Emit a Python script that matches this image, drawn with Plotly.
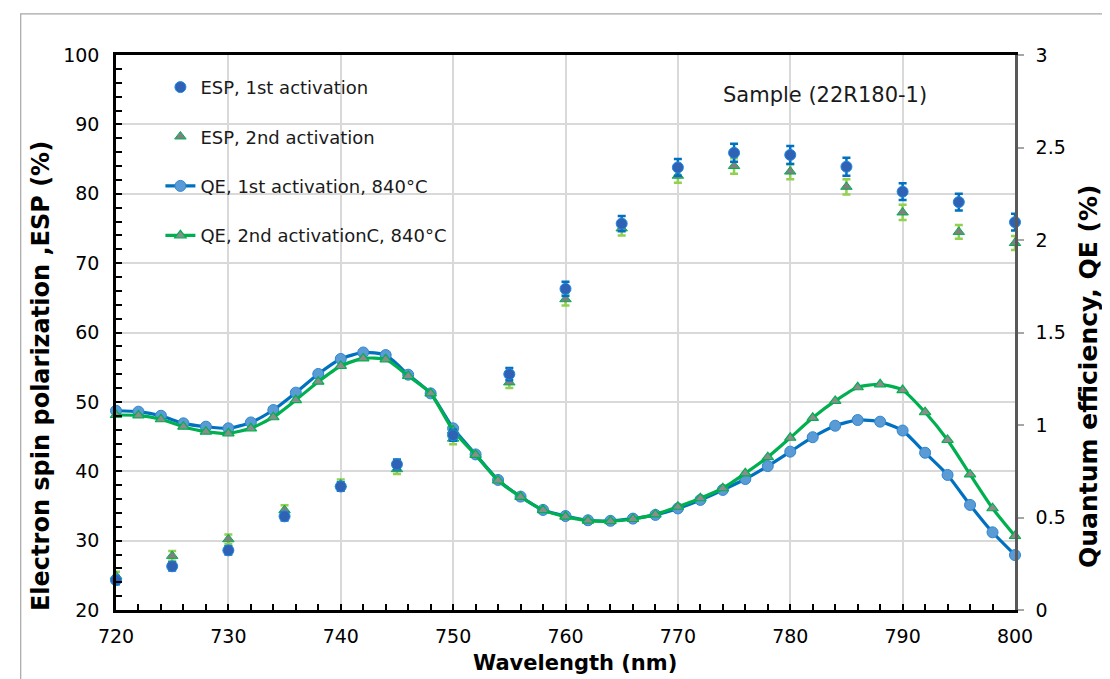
import plotly.graph_objects as go

# ---------------- data ----------------
wl_qe = [720, 722, 724, 726, 728, 730, 732, 734, 736, 738, 740, 742, 744, 746, 748,
         750, 752, 754, 756, 758, 760, 762, 764, 766, 768, 770, 772, 774, 776, 778,
         780, 782, 784, 786, 788, 790, 792, 794, 796, 798, 800]
qe_1st = [1.077, 1.072, 1.050, 1.009, 0.991, 0.982, 1.014, 1.081, 1.175, 1.276, 1.357,
          1.392, 1.378, 1.272, 1.171, 0.982, 0.841, 0.703, 0.613, 0.541, 0.508, 0.485,
          0.482, 0.494, 0.514, 0.549, 0.595, 0.649, 0.708, 0.778, 0.856, 0.934, 0.996,
          1.027, 1.018, 0.970, 0.850, 0.730, 0.568, 0.420, 0.297]
qe_2nd = [1.054, 1.052, 1.031, 0.991, 0.964, 0.955, 0.982, 1.042, 1.135, 1.234, 1.319,
          1.360, 1.355, 1.265, 1.171, 0.970, 0.838, 0.700, 0.612, 0.540, 0.505, 0.483,
          0.480, 0.492, 0.517, 0.558, 0.604, 0.658, 0.739, 0.826, 0.931, 1.039, 1.130,
          1.204, 1.220, 1.189, 1.069, 0.919, 0.733, 0.550, 0.400]

wl_esp = [720, 725, 730, 735, 740, 745, 750, 755, 760, 765, 770, 775, 780, 785, 790, 795, 800]
esp_1st = [24.3, 26.3, 28.6, 33.5, 37.8, 41.0, 45.2, 54.0, 66.3, 75.7, 83.8, 85.9, 85.6,
           83.9, 80.3, 78.8, 75.9]
esp_1st_err = [0.6, 0.6, 0.6, 0.6, 0.6, 0.7, 0.8, 0.9, 1.0, 1.1, 1.2, 1.3, 1.3, 1.3, 1.2, 1.2, 1.2]
esp_2nd = [24.9, 27.8, 30.2, 34.4, 38.1, 40.3, 44.7, 52.8, 64.8, 75.0, 82.6, 84.0, 83.2,
           81.0, 77.3, 74.5, 72.9]
esp_2nd_err = [0.6, 0.7, 0.7, 0.7, 0.7, 0.7, 0.8, 0.8, 0.9, 1.0, 1.0, 1.1, 1.1, 1.1, 1.1, 1.0, 1.0]

left_ticks = [20, 30, 40, 50, 60, 70, 80, 90, 100]
right_ticks = [0, 0.5, 1, 1.5, 2, 2.5, 3]
right_labels = ["0", "0.5", "1", "1.5", "2", "2.5", "3"]
x_ticks = [720, 730, 740, 750, 760, 770, 780, 790, 800]

x_title = "Wavelength (nm)"
y_left_title = "Electron spin polarization ,ESP (%)"
y_right_title = "Quantum efficiency, QE (%)"
sample_label = "Sample (22R180-1)"

FONT = "DejaVu Sans, Liberation Sans, Arial, sans-serif"

fig = go.Figure()

# QE curves (primary y axis, right side)
fig.add_trace(go.Scatter(
    x=wl_qe, y=qe_1st, mode="lines+markers", name="QE, 1st activation, 840°C",
    line=dict(color="#0070C0", width=3.2, shape="spline", smoothing=0.6),
    marker=dict(symbol="circle", size=11, color="#5B9BD5", line=dict(color="#2E86D0", width=1)),
    yaxis="y", legendgroup="c", legendrank=3, cliponaxis=False,
))
fig.add_trace(go.Scatter(
    x=wl_qe, y=qe_2nd, mode="lines+markers", name="QE, 2nd activationC, 840°C",
    line=dict(color="#00B050", width=3.2, shape="spline", smoothing=0.6),
    marker=dict(symbol="triangle-up", size=10, color="#8C8C8C", line=dict(color="#00B050", width=1.2)),
    yaxis="y", legendgroup="d", legendrank=4, cliponaxis=False,
))

# ESP points (left axis, drawn on overlay)
fig.add_trace(go.Scatter(
    x=wl_esp, y=esp_2nd, mode="markers", name="ESP, 2nd activation",
    marker=dict(symbol="triangle-up", size=10, color="#808080", line=dict(color="#00B050", width=1)),
    error_y=dict(type="data", array=esp_2nd_err, color="#92D050", thickness=2.5, width=4),
    yaxis="y2", legendgroup="b", legendrank=2, cliponaxis=False,
))
fig.add_trace(go.Scatter(
    x=wl_esp, y=esp_1st, mode="markers", name="ESP, 1st activation",
    marker=dict(symbol="circle", size=11, color="#2F62B4", line=dict(color="#1E88E0", width=1)),
    error_y=dict(type="data", array=esp_1st_err, color="#0070C0", thickness=2.5, width=4),
    yaxis="y2", legendgroup="a", legendrank=1, cliponaxis=False,
))

fig.update_layout(
    width=1110, height=679,
    margin=dict(l=108, r=103, t=47, b=77),
    paper_bgcolor="white", plot_bgcolor="white",
    font=dict(family=FONT, size=19, color="#000000"),
    showlegend=True,
    legend=dict(
        x=0.0494, y=0.975, xanchor="left", yanchor="top",
        bgcolor="rgba(0,0,0,0)", font=dict(size=18, color="#1a1a1a"),
        tracegroupgap=23, traceorder="grouped", itemwidth=30,
    ),
    xaxis=dict(
        range=[720, 800], tickvals=x_ticks, ticktext=[str(v) for v in x_ticks],
        showgrid=True, gridcolor="#D9D9D9", gridwidth=1.5,
        showline=True, linecolor="black", linewidth=2.5, mirror=True,
        ticks="inside", ticklen=6, tickcolor="black", tickwidth=1.5,
        minor=dict(dtick=2, ticks="inside", ticklen=6, tickcolor="black", tickwidth=1.5, showgrid=False),
        zeroline=False, tickfont=dict(size=19), automargin=False, ticklabelstandoff=7,
    ),
    yaxis=dict(
        range=[0, 3], side="right", tickvals=right_ticks, ticktext=right_labels,
        showgrid=False, showline=True, linecolor="#595959", linewidth=2.5,
        ticks="outside", ticklen=6, tickcolor="#A6A6A6", tickwidth=1.5,
        zeroline=False, tickfont=dict(size=19), automargin=False, ticklabelstandoff=8,
    ),
    yaxis2=dict(
        range=[20, 100], side="left", overlaying="y", tickvals=left_ticks,
        ticktext=[str(v) for v in left_ticks],
        showgrid=True, gridcolor="#D9D9D9", gridwidth=1.5,
        showline=True, linecolor="black", linewidth=2.5,
        ticks="inside", ticklen=6, tickcolor="black", tickwidth=1.5,
        minor=dict(dtick=2, ticks="inside", ticklen=6, tickcolor="black", tickwidth=1.5, showgrid=False),
        zeroline=False, tickfont=dict(size=19), automargin=False, ticklabelstandoff=10,
    ),
    annotations=[
        dict(x=783.1, y=94.2, xref="x", yref="y2", text=sample_label,
             showarrow=False, font=dict(size=21, color="#1a1a1a"), xanchor="center", yanchor="middle"),
        dict(x=0.5106, y=-0.0955, xref="paper", yref="paper", text="<b>" + x_title + "</b>",
             showarrow=False, font=dict(size=21), xanchor="center", yanchor="middle"),
        dict(x=-0.0834, y=0.4216, xref="paper", yref="paper", text="<b>" + y_left_title + "</b>",
             showarrow=False, font=dict(size=24), textangle=-90, xanchor="center", yanchor="middle"),
        dict(x=1.0812, y=0.4216, xref="paper", yref="paper", text="<b>" + y_right_title + "</b>",
             showarrow=False, font=dict(size=25), textangle=-90, xanchor="center", yanchor="middle"),
    ],
    shapes=[dict(
        type="rect", xref="paper", yref="paper",
        x0=-0.106, x1=1.099, y0=-0.16, y1=1.074,
        line=dict(color="#A6A6A6", width=1.2), fillcolor="rgba(0,0,0,0)", layer="below",
    )],
)

fig.write_html("out.html")
